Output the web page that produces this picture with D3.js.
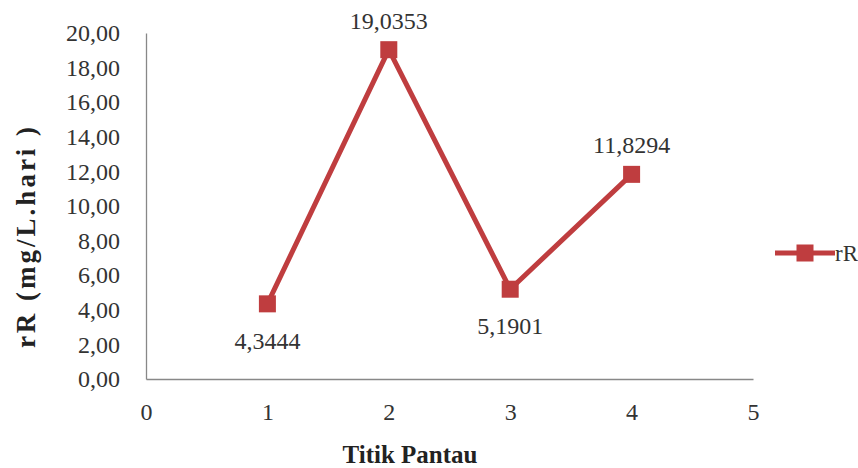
<!DOCTYPE html>
<html>
<head>
<meta charset="utf-8">
<script src="https://cdn.jsdelivr.net/npm/d3@7"></script>
<style>
  html, body { margin: 0; padding: 0; background: #fff; }
</style>
</head>
<body>
<div id="chart"></div>
<script>
'use strict';

// Data
var titik = [1, 2, 3, 4];
var rR = [4.3444, 19.0353, 5.1901, 11.8294];
var labelSide = ['below', 'above', 'below', 'above'];
var yTicks = [0, 2, 4, 6, 8, 10, 12, 14, 16, 18, 20];
var xTicks = [0, 1, 2, 3, 4, 5];
var seriesName = 'rR';

var width = 858, height = 468;
var margin = {top: 33, right: 105, bottom: 89, left: 146};
var color = '#BF3D3F';
var serif = '"Liberation Serif", "Times New Roman", serif';

var fmt = function(d, digits) { return d.toFixed(digits).replace('.', ','); };

var x = d3.scaleLinear().domain([0, 5]).range([margin.left, width - margin.right]);
var y = d3.scaleLinear().domain([0, 20]).range([height - margin.bottom, margin.top]);

var svg = d3.select('#chart').append('svg')
  .attr('width', width)
  .attr('height', height)
  .style('font-family', serif);

// Axes
var yAxis = d3.axisLeft(y)
  .tickValues(yTicks)
  .tickSize(0)
  .tickPadding(26)
  .tickFormat(function(d) { return fmt(d, 2); });
var xAxis = d3.axisBottom(x)
  .tickValues(xTicks)
  .tickSize(0)
  .tickPadding(24)
  .tickFormat(function(d) { return d; });

svg.append('g')
  .attr('transform', 'translate(' + margin.left + ',0)')
  .call(yAxis);
svg.append('g')
  .attr('transform', 'translate(0,' + (height - margin.bottom) + ')')
  .call(xAxis);

svg.selectAll('g').attr('font-family', null);

svg.selectAll('.domain')
  .attr('stroke', '#888')
  .attr('stroke-width', 1.3);
svg.selectAll('.tick text')
  .attr('font-size', 24)
  .attr('fill', '#333');

// Axis titles
svg.append('text')
  .attr('transform', 'translate(35,' + 236 + ') rotate(-90)')
  .attr('text-anchor', 'middle')
  .attr('font-size', 27)
  .attr('font-weight', 'bold')
  .attr('letter-spacing', 3)
  .attr('fill', '#222')
  .text('rR (mg/L.hari )');

svg.append('text')
  .attr('x', 410)
  .attr('y', 463)
  .attr('text-anchor', 'middle')
  .attr('font-size', 25)
  .attr('font-weight', 'bold')
  .attr('fill', '#222')
  .text('Titik Pantau');

// Line
var line = d3.line()
  .x(function(d, i) { return x(titik[i]); })
  .y(function(d) { return y(d); });

svg.append('path')
  .datum(rR)
  .attr('fill', 'none')
  .attr('stroke', color)
  .attr('stroke-width', 5)
  .attr('stroke-linejoin', 'round')
  .attr('d', line);

// Markers
var ms = 17;
svg.selectAll('.marker')
  .data(rR)
  .enter().append('rect')
    .attr('class', 'marker')
    .attr('x', function(d, i) { return x(titik[i]) - ms / 2; })
    .attr('y', function(d) { return y(d) - ms / 2; })
    .attr('width', ms)
    .attr('height', ms)
    .attr('fill', color);

// Data labels
svg.selectAll('.dlabel')
  .data(rR)
  .enter().append('text')
    .attr('class', 'dlabel')
    .attr('x', function(d, i) { return x(titik[i]); })
    .attr('y', function(d, i) { return y(d) + (labelSide[i] === 'above' ? -21 : 45); })
    .attr('text-anchor', 'middle')
    .attr('font-size', 24)
    .attr('fill', '#333')
    .text(function(d) { return fmt(d, 4); });

// Legend
var lg = svg.append('g').attr('transform', 'translate(775,253)');
lg.append('line')
  .attr('x1', 0).attr('x2', 60)
  .attr('stroke', color)
  .attr('stroke-width', 5);
lg.append('rect')
  .attr('x', 30 - ms / 2).attr('y', -ms / 2)
  .attr('width', ms).attr('height', ms)
  .attr('fill', color);
lg.append('text')
  .attr('x', 60)
  .attr('y', 8)
  .attr('font-size', 23)
  .attr('fill', '#333')
  .text(seriesName);
</script>
</body>
</html>
